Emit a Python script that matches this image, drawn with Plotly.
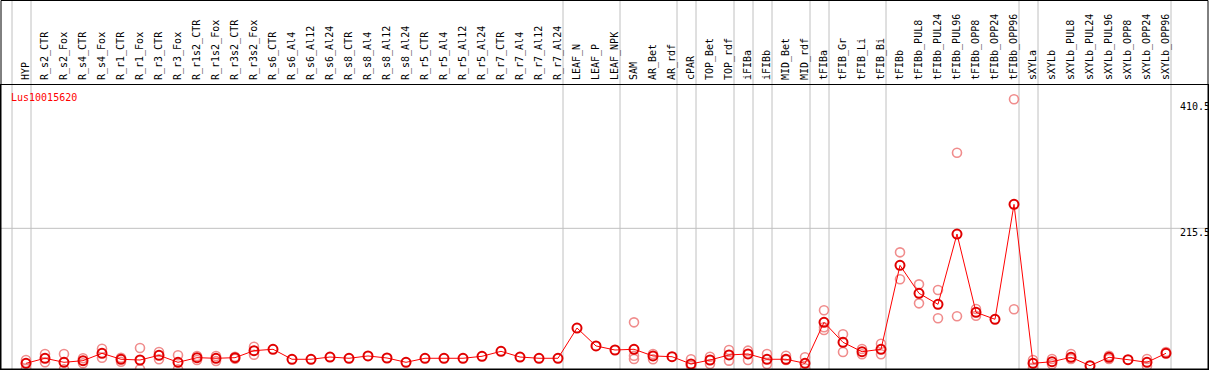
import plotly.graph_objects as go

categories = ["HYP", "R_s2_CTR", "R_s2_Fox", "R_s4_CTR", "R_s4_Fox", "R_r1_CTR", "R_r1_Fox",
              "R_r3_CTR", "R_r3_Fox", "R_r1s2_CTR", "R_r1s2_Fox", "R_r3s2_CTR", "R_r3s2_Fox",
              "R_s6_CTR", "R_s6_Al4", "R_s6_Al12", "R_s6_Al24", "R_s8_CTR", "R_s8_Al4", "R_s8_Al12",
              "R_s8_Al24", "R_r5_CTR", "R_r5_Al4", "R_r5_Al12", "R_r5_Al24", "R_r7_CTR", "R_r7_Al4",
              "R_r7_Al12", "R_r7_Al24", "LEAF_N", "LEAF_P", "LEAF_NPK", "SAM", "AR_Bet", "AR_rdf",
              "cPAR", "TOP_Bet", "TOP_rdf", "iFIBa", "iFIBb", "MID_Bet", "MID_rdf", "tFIBa",
              "tFIB_Gr", "tFIB_Li", "tFIB_Bi", "tFIBb", "tFIBb_PUL8", "tFIBb_PUL24", "tFIBb_PUL96",
              "tFIBb_OPP8", "tFIBb_OPP24", "tFIBb_OPP96", "sXYLa", "sXYLb", "sXYLb_PUL8",
              "sXYLb_PUL24", "sXYLb_PUL96", "sXYLb_OPP8", "sXYLb_OPP24", "sXYLb_OPP96"]

mean_values = [11.6, 19.2, 13.1, 15.6, 26.7, 17.7, 16.6, 23.7, 13.1, 20.1, 19.2, 20.1, 30.7, 32.8,
               17.7, 17.7, 21.1, 19.2, 22.7, 19.6, 13.1, 19.2, 19.2, 19.2, 22.2, 29.7, 21.1, 19.2, 19.2,
               64.9, 37.8, 31.7,
               32.8, 22.7, 21.6, 10.6, 16.6, 24.2, 25.7, 17.7, 17.7, 11.6,
               73.5, 43.3, 29.1, 32.8,
               159.6, 117.3, 100.7, 206.9, 88.6, 78.1, 251.7,
               11.6, 14.0, 20.7, 8.0, 20.7, 17.1, 13.1, 26.7]

rep_high = [16.6, 25.7, 25.7, 19.2, 33.7, 20.1, 34.7, 28.7, 23.7, 22.7, 22.7, 21.6, 36.7, None,
            None, None, None, None, None, None, None, None, None, None, None, None, None, None, None,
            None, None, None,
            73.5, 25.7, None, 17.7, 21.6, 31.7, 30.7, 25.7, 23.1, 20.7,
            91.7, 55.4, 33.2, 41.2,
            179.2, 130.9, 122.3, 329.6, 93.6, None, 410.5,
            16.6, 18.1, 25.7, None, 23.1, None, 18.1, 28.7]

rep_low = [3.5, 13.1, 2.6, 11.6, 20.1, 14.0, 2.6, 17.7, 2.6, 16.6, 15.1, 18.6, 24.6, None,
           None, None, None, None, None, None, None, None, None, None, None, None, None, None, None,
           None, None, None,
           23.1, 17.7, None, 7.6, 10.6, 15.6, 16.6, 10.6, 16.6, 4.1,
           61.9, 28.7, 25.2, 25.2,
           138.5, 102.2, 79.6, 82.6, 83.5, None, 93.2,
           5.0, 10.1, 18.1, None, 18.1, None, 7.6, None]

rep_extra = [None] * 32 + [18.1] + [None] * 9 + [66.0] + [None] * 18

# last category index of each group (vertical separators); -1 = left edge
group_ends = [-1, 0, 28, 31, 34, 35, 37, 38, 39, 41, 42, 45, 52, 53, 60]
y_ticks = [0, 215.5, 410.5]
y_tick_labels = ["0", "215.5", "410.5"]
y_label_shift = [9, -4, -7]
gene_name = "Lus10015620"

FONT = "DejaVu Sans Mono"
rep_color = "#f08c8c"

fig = go.Figure()
for reps in (rep_high, rep_low, rep_extra):
    fig.add_trace(go.Scatter(
        x=categories, y=reps, mode="markers",
        marker=dict(symbol="circle-open", size=9, color=rep_color, line=dict(width=1.6, color=rep_color)),
        hoverinfo="skip", showlegend=False))

fig.add_trace(go.Scatter(
    x=categories, y=mean_values, mode="lines+markers",
    line=dict(color="#ff0000", width=1),
    marker=dict(symbol="circle-open", size=9, color="#e00000", line=dict(width=2, color="#e00000")),
    showlegend=False))

shapes = []
top_paper = (369 - 0.5) / 284.0
for g in group_ends:
    xv = g + 5.0 / 19.0
    shapes.append(dict(type="line", xref="x", yref="paper", x0=xv, x1=xv, y0=0, y1=top_paper,
                       line=dict(color="#c0c0c0", width=1), layer="below"))
shapes.append(dict(type="line", xref="paper", yref="y", x0=0, x1=1, y0=y_ticks[1], y1=y_ticks[1],
                   line=dict(color="#c0c0c0", width=1), layer="below"))
shapes.append(dict(type="rect", xref="paper", yref="paper", x0=0, x1=1, y0=0, y1=top_paper,
                   line=dict(color="black", width=1), fillcolor="rgba(0,0,0,0)"))

annotations = []
for v, t, s in zip(y_ticks, y_tick_labels, y_label_shift):
    annotations.append(dict(x=(1178 - 1) / 1207.0, xref="paper", y=v, yref="y", text=t,
                            showarrow=False, xanchor="left", yanchor="middle", yshift=s,
                            font=dict(family=FONT, size=10, color="black")))
annotations.append(dict(x=(9 - 1) / 1207.0, xref="paper", y=(369 - 97) / 284.0, yref="paper",
                        text=gene_name, showarrow=False, xanchor="left", yanchor="middle",
                        font=dict(family=FONT, size=10, color="#ff0000")))

fig.update_layout(
    width=1209, height=370,
    margin=dict(l=1, r=1, t=85, b=1, pad=0, autoexpand=False),
    paper_bgcolor="white", plot_bgcolor="white",
    shapes=shapes, annotations=annotations,
    xaxis=dict(type="category", side="top", range=[-25.0 / 19.0, -25.0 / 19.0 + 1207.0 / 19.0],
               tickangle=-90, ticks="", showgrid=False, zeroline=False, automargin=False,
               showline=True, mirror=True, linecolor="black", linewidth=1,
               tickfont=dict(family=FONT, size=10, color="black"), ticklabelstandoff=2),
    yaxis=dict(range=[3, 432], showticklabels=False, showgrid=False, zeroline=False, automargin=False,
               showline=True, mirror=True, linecolor="black", linewidth=1),
)

fig.write_html("out.html", config={"displayModeBar": False},
               post_script="document.body.style.margin='0px';document.body.style.overflow='hidden';")
